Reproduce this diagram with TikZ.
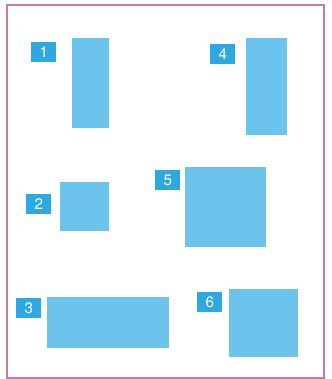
\documentclass[tikz,border=0pt]{standalone}
\usepackage{fontspec}
\setsansfont{TeX Gyre Heros}
\usepackage{xcolor}
\usepackage{tikz}
\usetikzlibrary{positioning}
\definecolor{framerose}{HTML}{C97AA6}
\definecolor{areablue}{HTML}{6CC4EC}
\definecolor{tagblue}{HTML}{2EA8E0}

\begin{document}
\begin{tikzpicture}[
    x=0.3mm,y=-0.3mm,
    area/.style={fill=areablue,inner sep=0pt,anchor=north west},
    tag/.style={fill=tagblue,text=white,font=\sffamily\fontsize{13}{13}\selectfont,
        minimum width=7.5mm,minimum height=6mm,inner sep=0pt,anchor=north west}
]
    \useasboundingbox (0,0) rectangle (332,379);
    \draw[framerose,line width=0.45mm] (7,5) rectangle (324,378);

    % areas
    \node[area,minimum width=11.1mm,minimum height=27mm] (area1) at (72,38) {};
    \node[area,minimum width=14.7mm,minimum height=14.7mm] (area2) at (60,182) {};
    \node[area,minimum width=36.6mm,minimum height=15.3mm] (area3) at (47,297) {};
    \node[area,minimum width=12.3mm,minimum height=29.1mm] (area4) at (246,38) {};
    \node[area,minimum width=24.3mm,minimum height=24mm] (area5) at (185,167) {};
    \node[area,minimum width=20.7mm,minimum height=20.4mm] (area6) at (229,289) {};

    % number tags
    \node[tag] (tag1) at (31,42) {1};
    \node[tag] (tag2) at (26,194) {2};
    \node[tag] (tag3) at (16,298) {3};
    \node[tag] (tag4) at (210,44) {4};
    \node[tag] (tag5) at (155,170) {5};
    \node[tag] (tag6) at (197,292) {6};
\end{tikzpicture}
\end{document}
